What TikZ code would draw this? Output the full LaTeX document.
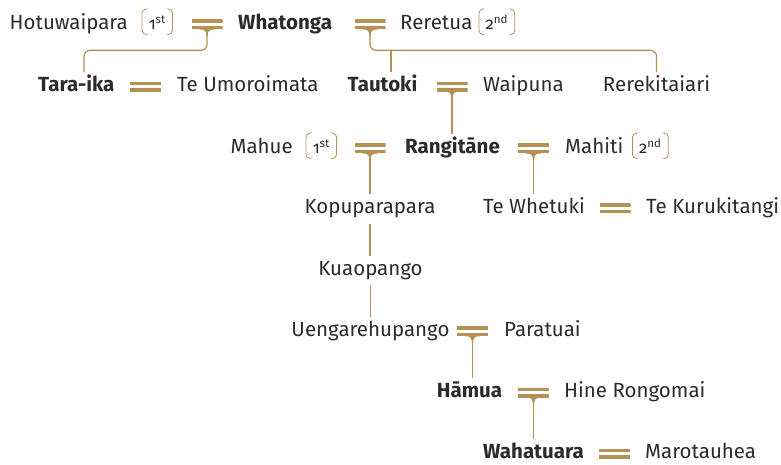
\documentclass[tikz,border=0pt]{standalone}
\usepackage{fontspec}
\setmainfont{Fira Sans}[Numbers=OldStyle]
\usepackage{xcolor}
\usetikzlibrary{positioning, calc}

\definecolor{gold}{HTML}{B39155}
\definecolor{ink}{HTML}{2B2B2B}

\tikzset{
  person/.style={anchor=base west, inner xsep=0pt, inner ysep=5pt, text height=14pt, text depth=5pt,
    text=ink, font=\fontsize{20.5}{23}\selectfont},
  chief/.style={person, font=\fontsize{20.5}{23}\selectfont\bfseries},
  ord/.style={anchor=base west, inner xsep=6.5pt, inner ysep=0pt, text height=20pt, text depth=5pt,
    text=ink, font=\fontsize{16.5}{18}\selectfont},
  marr/.style={minimum width=31pt, minimum height=10pt, inner sep=0pt,
    path picture={
      \fill[gold] (path picture bounding box.north west) rectangle ([yshift=-3.5pt]path picture bounding box.north east);
      \fill[gold] ([yshift=3.5pt]path picture bounding box.south west) rectangle (path picture bounding box.south east);
    }},
  link/.style={gold, line width=1.2pt, rounded corners=6pt}
}

% flared foot under a marriage sign
\newcommand\tiestem[1]{
  \fill[gold] ([xshift=-8pt,yshift=0.5pt]#1.south) -- ([xshift=-7pt]#1.south)
    .. controls ([xshift=-2pt]#1.south) and ([xshift=-0.6pt,yshift=-1.5pt]#1.south)
    .. ([xshift=-0.6pt,yshift=-7pt]#1.south) -- ([xshift=0.6pt,yshift=-7pt]#1.south)
    .. controls ([xshift=0.6pt,yshift=-1.5pt]#1.south) and ([xshift=2pt]#1.south)
    .. ([xshift=7pt]#1.south) -- ([xshift=8pt,yshift=0.5pt]#1.south) -- cycle;
}
% soft brackets round an ordinal
\newcommand\ordbrackets[1]{
  \draw[gold, line width=0.8pt, rounded corners=4pt] ([xshift=3.5pt]#1.north west) -- (#1.north west)
    -- (#1.south west) -- ([xshift=3.5pt]#1.south west);
  \draw[gold, line width=0.8pt, rounded corners=4pt] ([xshift=-3.5pt]#1.north east) -- (#1.north east)
    -- (#1.south east) -- ([xshift=-3.5pt]#1.south east);
}

\begin{document}
\begin{tikzpicture}[x=1pt, y=-1pt]
  \useasboundingbox (0,0) rectangle (781,464);

  % Whatonga and his wives
  \node[person, anchor=base east] (hotu) at (128,29.3) {Hotuwaipara};
  \node[ord, anchor=base east] (o1) at (172.5,29.3) {1\textsuperscript{st}};
  \node[marr] (m1) at (207,24.3) {};
  \node[chief] (whatonga) at (238,29.3) {Whatonga};
  \node[marr] (m2) at (370,24.3) {};
  \node[person] (reretua) at (400,29.3) {Reretua};
  \node[ord] (o2) at (479,29.3) {2\textsuperscript{nd}};

  % children of Whatonga
  \node[chief] (taraika) at (38,91.5) {Tara-ika};
  \node[marr] (m3) at (145.5,86.5) {};
  \node[person] (umoro) at (177,91.5) {Te Umoroimata};
  \node[chief] (tautoki) at (347.5,91.5) {Tautoki};
  \node[marr] (m4) at (452,86.5) {};
  \node[person] (waipuna) at (483,91.5) {Waipuna};
  \node[person, anchor=base] (rereki) at (656.5,91.5) {Rerekitaiari};

  % Rangitane and his wives
  \node[person, anchor=base east] (mahue) at (293,153.3) {Mahue};
  \node[ord, anchor=base east] (o3) at (336.5,153.3) {1\textsuperscript{st}};
  \node[marr] (m5) at (370,148.3) {};
  \node[chief, anchor=base] (rangitane) at (452.5,153.3) {Rangitāne};
  \node[marr] (m6) at (533.5,148.3) {};
  \node[person] (mahiti) at (565,153.3) {Mahiti};
  \node[ord] (o4) at (632.5,153.3) {2\textsuperscript{nd}};

  % next generations
  \node[person, anchor=base] (kopu) at (370,213.3) {Kopuparapara};
  \node[person, anchor=base] (whetuki) at (534,213.3) {Te Whetuki};
  \node[marr] (m7) at (615,208.3) {};
  \node[person] (kuru) at (646,213.3) {Te Kurukitangi};
  \node[person, anchor=base] (kuao) at (370.5,275) {Kuaopango};
  \node[person, anchor=base] (uenga) at (370.5,336) {Uengarehupango};
  \node[marr] (m8) at (472.5,331) {};
  \node[person] (paratuai) at (504,336) {Paratuai};
  \node[chief, anchor=base] (hamua) at (469.5,397.5) {Hāmua};
  \node[marr] (m9) at (533.5,392.5) {};
  \node[person] (hine) at (564,397.5) {Hine Rongomai};
  \node[chief, anchor=base] (waha) at (533.5,458.5) {Wahatuara};
  \node[marr] (m10) at (614.5,453.5) {};
  \node[person] (marot) at (645,458.5) {Marotauhea};

  % brackets
  \ordbrackets{o1}
  \ordbrackets{o2}
  \ordbrackets{o3}
  \ordbrackets{o4}

  % descent lines
  \foreach \m in {m1,m2,m4,m5,m6,m8,m9} {\tiestem{\m}}
  \coordinate (t1) at ([xshift=46pt]taraika.north west);
  \draw[link] (m1.south) |- ($(t1)+(0,-22)$) -- (t1);
  \draw[link] (m2.south) |- ($(rereki.north)+(0,-22)$) -- (rereki.north);
  \coordinate (t2) at ([xshift=43.5pt]tautoki.north west);
  \draw[link] (t2) -- ++(0,-22);
  \draw[link] (m4.south) -- (m4.south |- rangitane.north);
  \draw[link] (m5.south) -- (m5.south |- kopu.north);
  \draw[link] (m6.south) -- (m6.south |- whetuki.north);
  \draw[link] (kopu.south) -- (kopu.south |- kuao.north);
  \draw[link] (kuao.south) -- (kuao.south |- uenga.north);
  \draw[link] (m8.south) -- (m8.south |- hamua.north);
  \draw[link] (m9.south) -- (m9.south |- waha.north);
\end{tikzpicture}
\end{document}
